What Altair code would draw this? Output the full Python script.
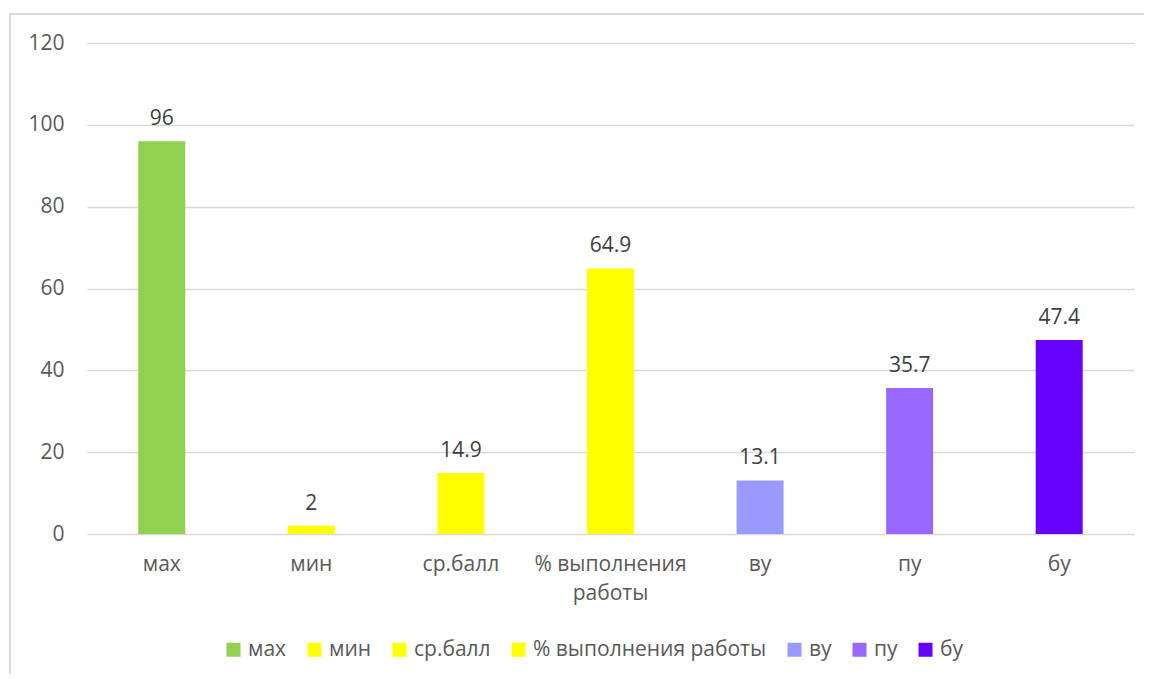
import altair as alt
import pandas as pd

categories = ["мах", "мин", "ср.балл", "% выполнения работы", "ву", "пу", "бу"]
values = [96, 2, 14.9, 64.9, 13.1, 35.7, 47.4]
labels = ["96", "2", "14.9", "64.9", "13.1", "35.7", "47.4"]
colors = ["#92D050", "#FFFF00", "#FFFF00", "#FFFF00", "#9999FF", "#9966FF", "#6600FF"]

df = pd.DataFrame({"cat": categories, "val": values, "lbl": labels})

FONT = "Open Sans"
FS = 21

x_enc = alt.X(
    "cat:N",
    sort=categories,
    title=None,
    scale=alt.Scale(paddingInner=0.686, paddingOuter=0.343),
    axis=alt.Axis(
        labelAngle=0,
        ticks=False,
        domain=False,
        labelPadding=19,
        labelFontSize=FS,
        labelFont=FONT,
        labelColor="#595959",
        labelLineHeight=29,
        labelBaseline="top",
        labelLimit=0,
        labelExpr="datum.value == '% выполнения работы' ? ['% выполнения', 'работы'] : datum.value",
    ),
)

y_enc = alt.Y(
    "val:Q",
    title=None,
    scale=alt.Scale(domain=[0, 120], nice=False),
    axis=alt.Axis(
        values=[0, 20, 40, 60, 80, 100, 120],
        ticks=False,
        domain=False,
        grid=True,
        gridColor="#d9d9d9",
        gridWidth=1.5,
        labelPadding=23,
        labelFontSize=FS,
        labelFont=FONT,
        labelColor="#595959",
    ),
)

border = alt.Chart(df).mark_rect(
    fill=None, filled=False, stroke="#d9d9d9", strokeWidth=1.5
).encode(
    x=alt.value(-77), x2=alt.value(1075), y=alt.value(-29), y2=alt.value(700)
)

bars = alt.Chart(df).mark_bar().encode(
    x=x_enc,
    y=y_enc,
    color=alt.Color(
        "cat:N",
        sort=categories,
        scale=alt.Scale(domain=categories, range=colors),
        legend=alt.Legend(
            title=None,
            orient="none",
            direction="horizontal",
            legendX=134,
            legendY=594,
            padding=2,
            symbolType="square",
            symbolSize=196,
            symbolStrokeWidth=0,
            labelFontSize=FS,
            labelFont=FONT,
            labelColor="#595959",
            labelOffset=4,
            labelLimit=0,
            columnPadding=17,
        ),
    ),
)

text = alt.Chart(df).mark_text(
    baseline="alphabetic", dy=-16, fontSize=FS, font=FONT, color="#404040"
).encode(
    x=alt.X("cat:N", sort=categories),
    y="val:Q",
    text="lbl:N",
)

chart = alt.layer(border, bars, text).properties(
    width=1047,
    height=491,
    autosize=alt.AutoSizeParams(type="none"),
    padding={"left": 79, "top": 35, "right": 10, "bottom": 140},
).configure(background="white", view=alt.ViewConfig(stroke=None))

chart.save("out.html", embed_options={"renderer": "svg", "actions": False})
